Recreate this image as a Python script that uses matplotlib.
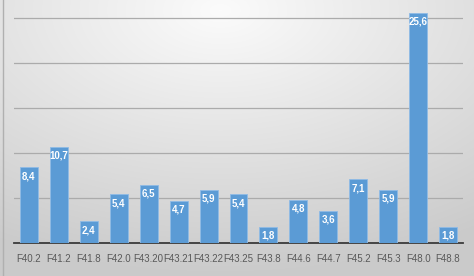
import numpy as np
import matplotlib.pyplot as plt

categories = ["F40.2", "F41.2", "F41.8", "F42.0", "F43.20", "F43.21", "F43.22", "F43.25",
              "F43.8", "F44.6", "F44.7", "F45.2", "F45.3", "F48.0", "F48.8"]
values = [8.4, 10.7, 2.4, 5.4, 6.5, 4.7, 5.9, 5.4, 1.8, 4.8, 3.6, 7.1, 5.9, 25.6, 1.8]
labels = ["8,4", "10,7", "2,4", "5,4", "6,5", "4,7", "5,9", "5,4",
          "1,8", "4,8", "3,6", "7,1", "5,9", "25,6", "1,8"]

plt.rcParams['font.family'] = ['Liberation Sans', 'DejaVu Sans']

fig = plt.figure(figsize=(4.74, 2.76), dpi=100)

# fond en dégradé (style Excel)
bg = fig.add_axes([0, 0, 1, 1])
yy, xx = np.mgrid[0:276, 0:474]
d = np.sqrt(((xx - 220) / 474.0) ** 2 + ((yy - 10) / 276.0) ** 2)
shade = 0.985 - 0.19 * np.clip(d / 0.95, 0, 1)
bg.imshow(np.dstack([shade] * 3), extent=[0, 1, 0, 1], aspect='auto', origin='upper')
bg.plot([3 / 474, 3 / 474], [0, 1], color='#b0b0b0', lw=1)
bg.set_xlim(0, 1)
bg.set_ylim(0, 1)
bg.axis('off')

ax = fig.add_axes([14 / 474, 1 - 243 / 276, 449 / 474, 234 / 276])
ax.patch.set_alpha(0)
x = np.arange(len(categories))
bars = ax.bar(x, values, width=0.6, color='#5b9bd5', edgecolor='#8fbbe6', linewidth=0.6, zorder=3)

for b, lab in zip(bars, labels):
    ax.text(b.get_x() + b.get_width() / 2, b.get_height() - 0.45, lab,
            ha='center', va='top', color='white', fontsize=7, fontweight='bold', zorder=4)

ax.set_xlim(-0.5, len(categories) - 0.5)
ax.set_ylim(0, 26)
ax.set_yticks([5, 10, 15, 20, 25])
ax.yaxis.grid(True, color='#ababab', lw=0.9, zorder=0)
ax.tick_params(axis='y', left=False, labelleft=False)
ax.set_xticks(x)
ax.set_xticklabels(categories, fontsize=7, color='#595959')
ax.tick_params(axis='x', length=0, pad=8)
for s in ['top', 'right', 'left']:
    ax.spines[s].set_visible(False)
ax.spines['bottom'].set_color('#3a3a3a')
ax.spines['bottom'].set_linewidth(1.3)

plt.savefig("out.png", dpi=100)
plt.close()
